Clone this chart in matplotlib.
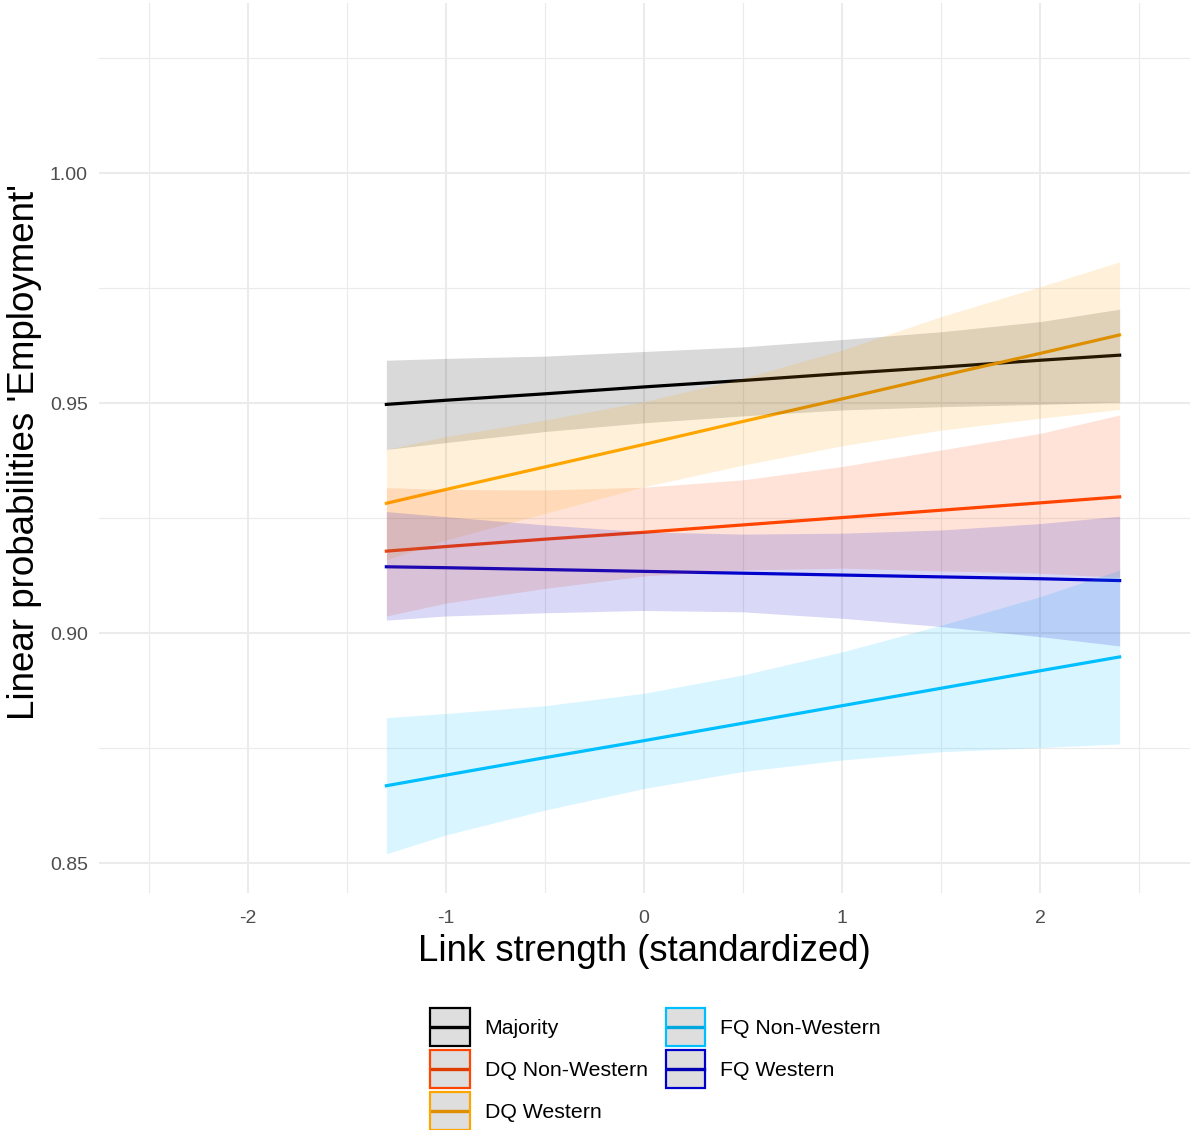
import numpy as np
import matplotlib
matplotlib.use("Agg")
import matplotlib.pyplot as plt
from matplotlib.lines import Line2D
from matplotlib.patches import Rectangle

plt.rcParams['font.family'] = ['Liberation Sans', 'DejaVu Sans']

link = [-1.3, -1.0, -0.5, 0.0, 0.5, 1.0, 1.5, 2.0, 2.4]

groups = ['Majority', 'DQ Non-Western', 'DQ Western', 'FQ Non-Western', 'FQ Western']
colors = ['#000000', '#FF4500', '#FFA500', '#00BFFF', '#0000CD']

majority_fit = [0.9497, 0.9506, 0.9520, 0.9535, 0.9549, 0.9564, 0.9578, 0.9593, 0.9604]
majority_hi = [0.9593, 0.9597, 0.9602, 0.9612, 0.9622, 0.9638, 0.9655, 0.9677, 0.9704]
majority_lo = [0.9399, 0.9414, 0.9438, 0.9457, 0.9472, 0.9485, 0.9492, 0.9497, 0.9502]

dq_nw_fit = [0.9178, 0.9188, 0.9204, 0.9219, 0.9235, 0.9251, 0.9267, 0.9283, 0.9296]
dq_nw_hi = [0.9316, 0.9312, 0.9311, 0.9317, 0.9333, 0.9362, 0.9398, 0.9434, 0.9474]
dq_nw_lo = [0.9037, 0.9065, 0.9097, 0.9124, 0.9137, 0.9141, 0.9135, 0.9130, 0.9121]

dq_w_fit = [0.9282, 0.9312, 0.9361, 0.9410, 0.9460, 0.9509, 0.9559, 0.9608, 0.9648]
dq_w_hi = [0.9399, 0.9427, 0.9463, 0.9503, 0.9554, 0.9615, 0.9688, 0.9753, 0.9807]
dq_w_lo = [0.9159, 0.9202, 0.9260, 0.9318, 0.9365, 0.9407, 0.9441, 0.9467, 0.9486]

fq_nw_fit = [0.8668, 0.8691, 0.8729, 0.8766, 0.8804, 0.8842, 0.8880, 0.8918, 0.8948]
fq_nw_hi = [0.8816, 0.8825, 0.8842, 0.8869, 0.8909, 0.8959, 0.9017, 0.9079, 0.9137]
fq_nw_lo = [0.8520, 0.8561, 0.8615, 0.8662, 0.8699, 0.8724, 0.8742, 0.8751, 0.8759]

fq_w_fit = [0.9144, 0.9142, 0.9138, 0.9134, 0.9130, 0.9126, 0.9122, 0.9118, 0.9114]
fq_w_hi = [0.9264, 0.9253, 0.9235, 0.9220, 0.9215, 0.9217, 0.9224, 0.9238, 0.9254]
fq_w_lo = [0.9028, 0.9037, 0.9044, 0.9049, 0.9046, 0.9032, 0.9014, 0.8992, 0.8972]

fits = [majority_fit, dq_nw_fit, dq_w_fit, fq_nw_fit, fq_w_fit]
his = [majority_hi, dq_nw_hi, dq_w_hi, fq_nw_hi, fq_w_hi]
los = [majority_lo, dq_nw_lo, dq_w_lo, fq_nw_lo, fq_w_lo]


class KeyHandler:
    # ggplot-like key: grey box with coloured border and line
    def legend_artist(self, legend, orig_handle, fontsize, handlebox):
        x0, y0 = -handlebox.xdescent, -handlebox.ydescent
        w, h = handlebox.width, handlebox.height
        col = orig_handle.get_color()
        tr = handlebox.get_transform()
        ln = Line2D([x0 + 1, x0 + w - 1], [y0 + h / 2] * 2, color=col, lw=2.4, transform=tr)
        fill = Rectangle((x0, y0), w, h, facecolor='black', alpha=0.13,
                         edgecolor='none', transform=tr)
        edge = Rectangle((x0, y0), w, h, facecolor='none', edgecolor=col,
                         lw=1.6, transform=tr)
        handlebox.add_artist(ln)
        handlebox.add_artist(fill)
        handlebox.add_artist(edge)
        return edge


fig = plt.figure(figsize=(11.91, 11.30), dpi=100)
ax = fig.add_axes([99 / 1191, 1 - 893 / 1130, 1091 / 1191, 890 / 1130])

handles = []
for g, c, f, hi, lo in zip(groups, colors, fits, his, los):
    h, = ax.plot(link, f, color=c, lw=2.3, zorder=2, label=g)
    ax.fill_between(link, lo, hi, color=c, alpha=0.15, lw=0, zorder=3)
    handles.append(h)

ax.set_xlim(-2.75, 2.755)
ax.set_ylim(0.84348, 1.03696)
ax.set_xticks([-2, -1, 0, 1, 2])
ax.set_xticks([-2.5, -1.5, -0.5, 0.5, 1.5, 2.5], minor=True)
ax.set_yticks([0.85, 0.90, 0.95, 1.00])
ax.set_yticks([0.875, 0.925, 0.975, 1.025], minor=True)
ax.set_xticklabels(['-2', '-1', '0', '1', '2'])
ax.set_yticklabels(['0.85', '0.90', '0.95', '1.00'])
ax.grid(which='major', color='#ebebeb', lw=1.5, zorder=0)
ax.grid(which='minor', color='#ebebeb', lw=0.8, zorder=0)
ax.set_axisbelow(True)
for s in ax.spines.values():
    s.set_visible(False)
ax.tick_params(which='both', length=0, labelsize=14, labelcolor='#4d4d4d')
ax.tick_params(axis='x', pad=12.5)
ax.tick_params(axis='y', pad=8)

ax.set_xlabel('Link strength (standardized)', fontsize=26.3)
ax.xaxis.set_label_coords(0.5, -0.046)
ax.set_ylabel("Linear probabilities 'Employment'", fontsize=26.5)
ax.yaxis.set_label_coords(-0.052, 0.495)

fig.legend(handles=handles, labels=groups, handler_map={Line2D: KeyHandler()},
           loc='upper left', bbox_to_anchor=(430 / 1191, 1 - 1008 / 1130),
           ncol=2, frameon=False, fontsize=15.3, borderpad=0, borderaxespad=0,
           handlelength=1.87, handleheight=2.4, handletextpad=0.7,
           labelspacing=0.17, columnspacing=0.85)

fig.savefig('out.png', dpi=100)
